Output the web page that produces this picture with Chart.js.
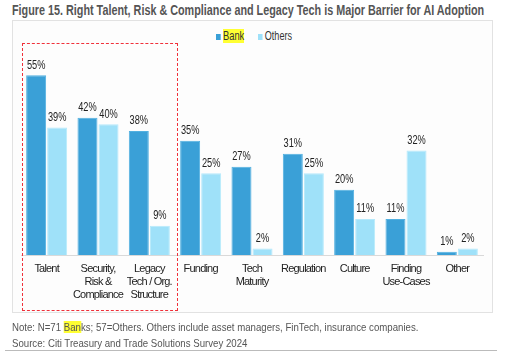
<!DOCTYPE html>
<html>
<head>
<meta charset="utf-8">
<script src="https://cdn.jsdelivr.net/npm/chart.js@4"></script>
<style>
  body { margin: 0; width: 520px; height: 363px; background: #fff; position: relative; overflow: hidden;
         font-family: "Liberation Sans", Arial, sans-serif; }
  .fit { position: absolute; left: 12px; white-space: nowrap; transform-origin: 0 0; }
  .title { top: 2px; font-size: 14px; font-weight: bold; color: #555; }
  .box { position: absolute; left: 12px; top: 20px; width: 479px; height: 291px; border: 1px solid #e2e2e2; background: #fdfdfd; }
  .redbox { position: absolute; left: 22px; top: 43px; width: 154px; height: 266px; border: 1px dashed #f0303a; }
  .legend { position: absolute; top: 29px; font-size: 12px; color: #333; white-space: nowrap; transform-origin: 0 0; }
  .sw { display: inline-block; width: 6px; height: 6px; margin-right: 3px; }
  .hl { background: #ffff33; }
  canvas { position: absolute; left: 0; top: 0; }
  .note { font-size: 11px; color: #555; }
  .rule { position: absolute; left: 5px; top: 350px; width: 492px; border-top: 1px solid #bbb; }
</style>
</head>
<body>
<div class="fit title" data-w="472">Figure 15. Right Talent, Risk &amp; Compliance and Legacy Tech is Major Barrier for AI Adoption</div>
<div class="box"></div>
<div class="legend" style="left:216px" data-w="28"><span class="sw" style="background:#3aa0d7"></span><span class="hl">Bank</span></div>
<div class="legend" style="left:258px" data-w="34"><span class="sw" style="background:#9fe1f9"></span>Others</div>
<canvas id="chart" width="520" height="363"></canvas>
<div class="redbox"></div>
<div class="fit note" style="top:321px" data-w="406">Note: N=71 <span class="hl">Ban</span>ks; 57=Others. Others include asset managers, FinTech, insurance companies.</div>
<div class="fit note" style="top:337px" data-w="235">Source: Citi Treasury and Trade Solutions Survey 2024</div>
<div class="rule"></div>

<script>
const categories = [
    ['Talent'],
    ['Security,', 'Risk &', 'Compliance'],
    ['Legacy', 'Tech / Org.', 'Structure'],
    ['Funding'],
    ['Tech', 'Maturity'],
    ['Regulation'],
    ['Culture'],
    ['Finding', 'Use-Cases'],
    ['Other'],
];
const bankValues = [55, 42, 38, 35, 27, 31, 20, 11, 1];
const othersValues = [39, 40, 9, 25, 2, 25, 11, 32, 2];

const FONT = '"Liberation Sans", Arial, sans-serif';

// squeeze html text to the narrow look of the original
document.querySelectorAll('[data-w]').forEach(el => {
    const k = Number(el.dataset.w) / el.scrollWidth;
    el.style.transform = 'scaleX(' + k + ')';
});

// narrow the canvas text a bit (no condensed font installed)
const narrowText = {
    id: 'narrowText',
    beforeLayout(chart) { chart.ctx.letterSpacing = '-0.8px'; },
    beforeDraw(chart) { chart.ctx.letterSpacing = '-0.8px'; }
};

// labels above every bar
const valueLabels = {
    id: 'valueLabels',
    afterDatasetsDraw(chart) {
        const ctx = chart.ctx;
        ctx.save();
        ctx.letterSpacing = '0px';
        ctx.font = '12px ' + FONT;
        ctx.fillStyle = '#222';
        ctx.textAlign = 'center';
        ctx.textBaseline = 'bottom';
        chart.data.datasets.forEach((ds, i) => {
            chart.getDatasetMeta(i).data.forEach((bar, j) => {
                ctx.save();
                ctx.translate(bar.x, bar.y - 4);
                ctx.scale(0.77, 1);
                ctx.fillText(ds.data[j] + '%', 0, 0);
                ctx.restore();
            });
        });
        ctx.restore();
    }
};

new Chart(document.getElementById('chart'), {
    type: 'bar',
    data: {
        labels: categories,
        datasets: [{
            label: 'Bank',
            data: bankValues,
            backgroundColor: '#3aa0d7',
            borderColor: '#52b0e0',
            borderWidth: 1,
            barPercentage: 0.95,
            categoryPercentage: 0.82,
        }, {
            label: 'Others',
            data: othersValues,
            backgroundColor: '#9fe1f9',
            borderColor: '#b5e9fb',
            borderWidth: 1,
            barPercentage: 0.95,
            categoryPercentage: 0.82,
        }]
    },
    options: {
        responsive: false,
        animation: false,
        layout: { padding: { left: 21, right: 37, top: 59, bottom: 55 } },
        plugins: {
            legend: { display: false },
            tooltip: { enabled: false },
        },
        scales: {
            x: {
                grid: { display: false, drawTicks: false },
                border: { display: true, color: '#d9d9d9' },
                ticks: {
                    color: '#222',
                    font: { family: FONT, size: 11, lineHeight: 1.18 },
                    padding: 7,
                    maxRotation: 0,
                    autoSkip: false,
                }
            },
            y: {
                display: false,
                min: 0,
                max: 60,
            }
        }
    },
    plugins: [narrowText, valueLabels]
});
</script>
</body>
</html>
